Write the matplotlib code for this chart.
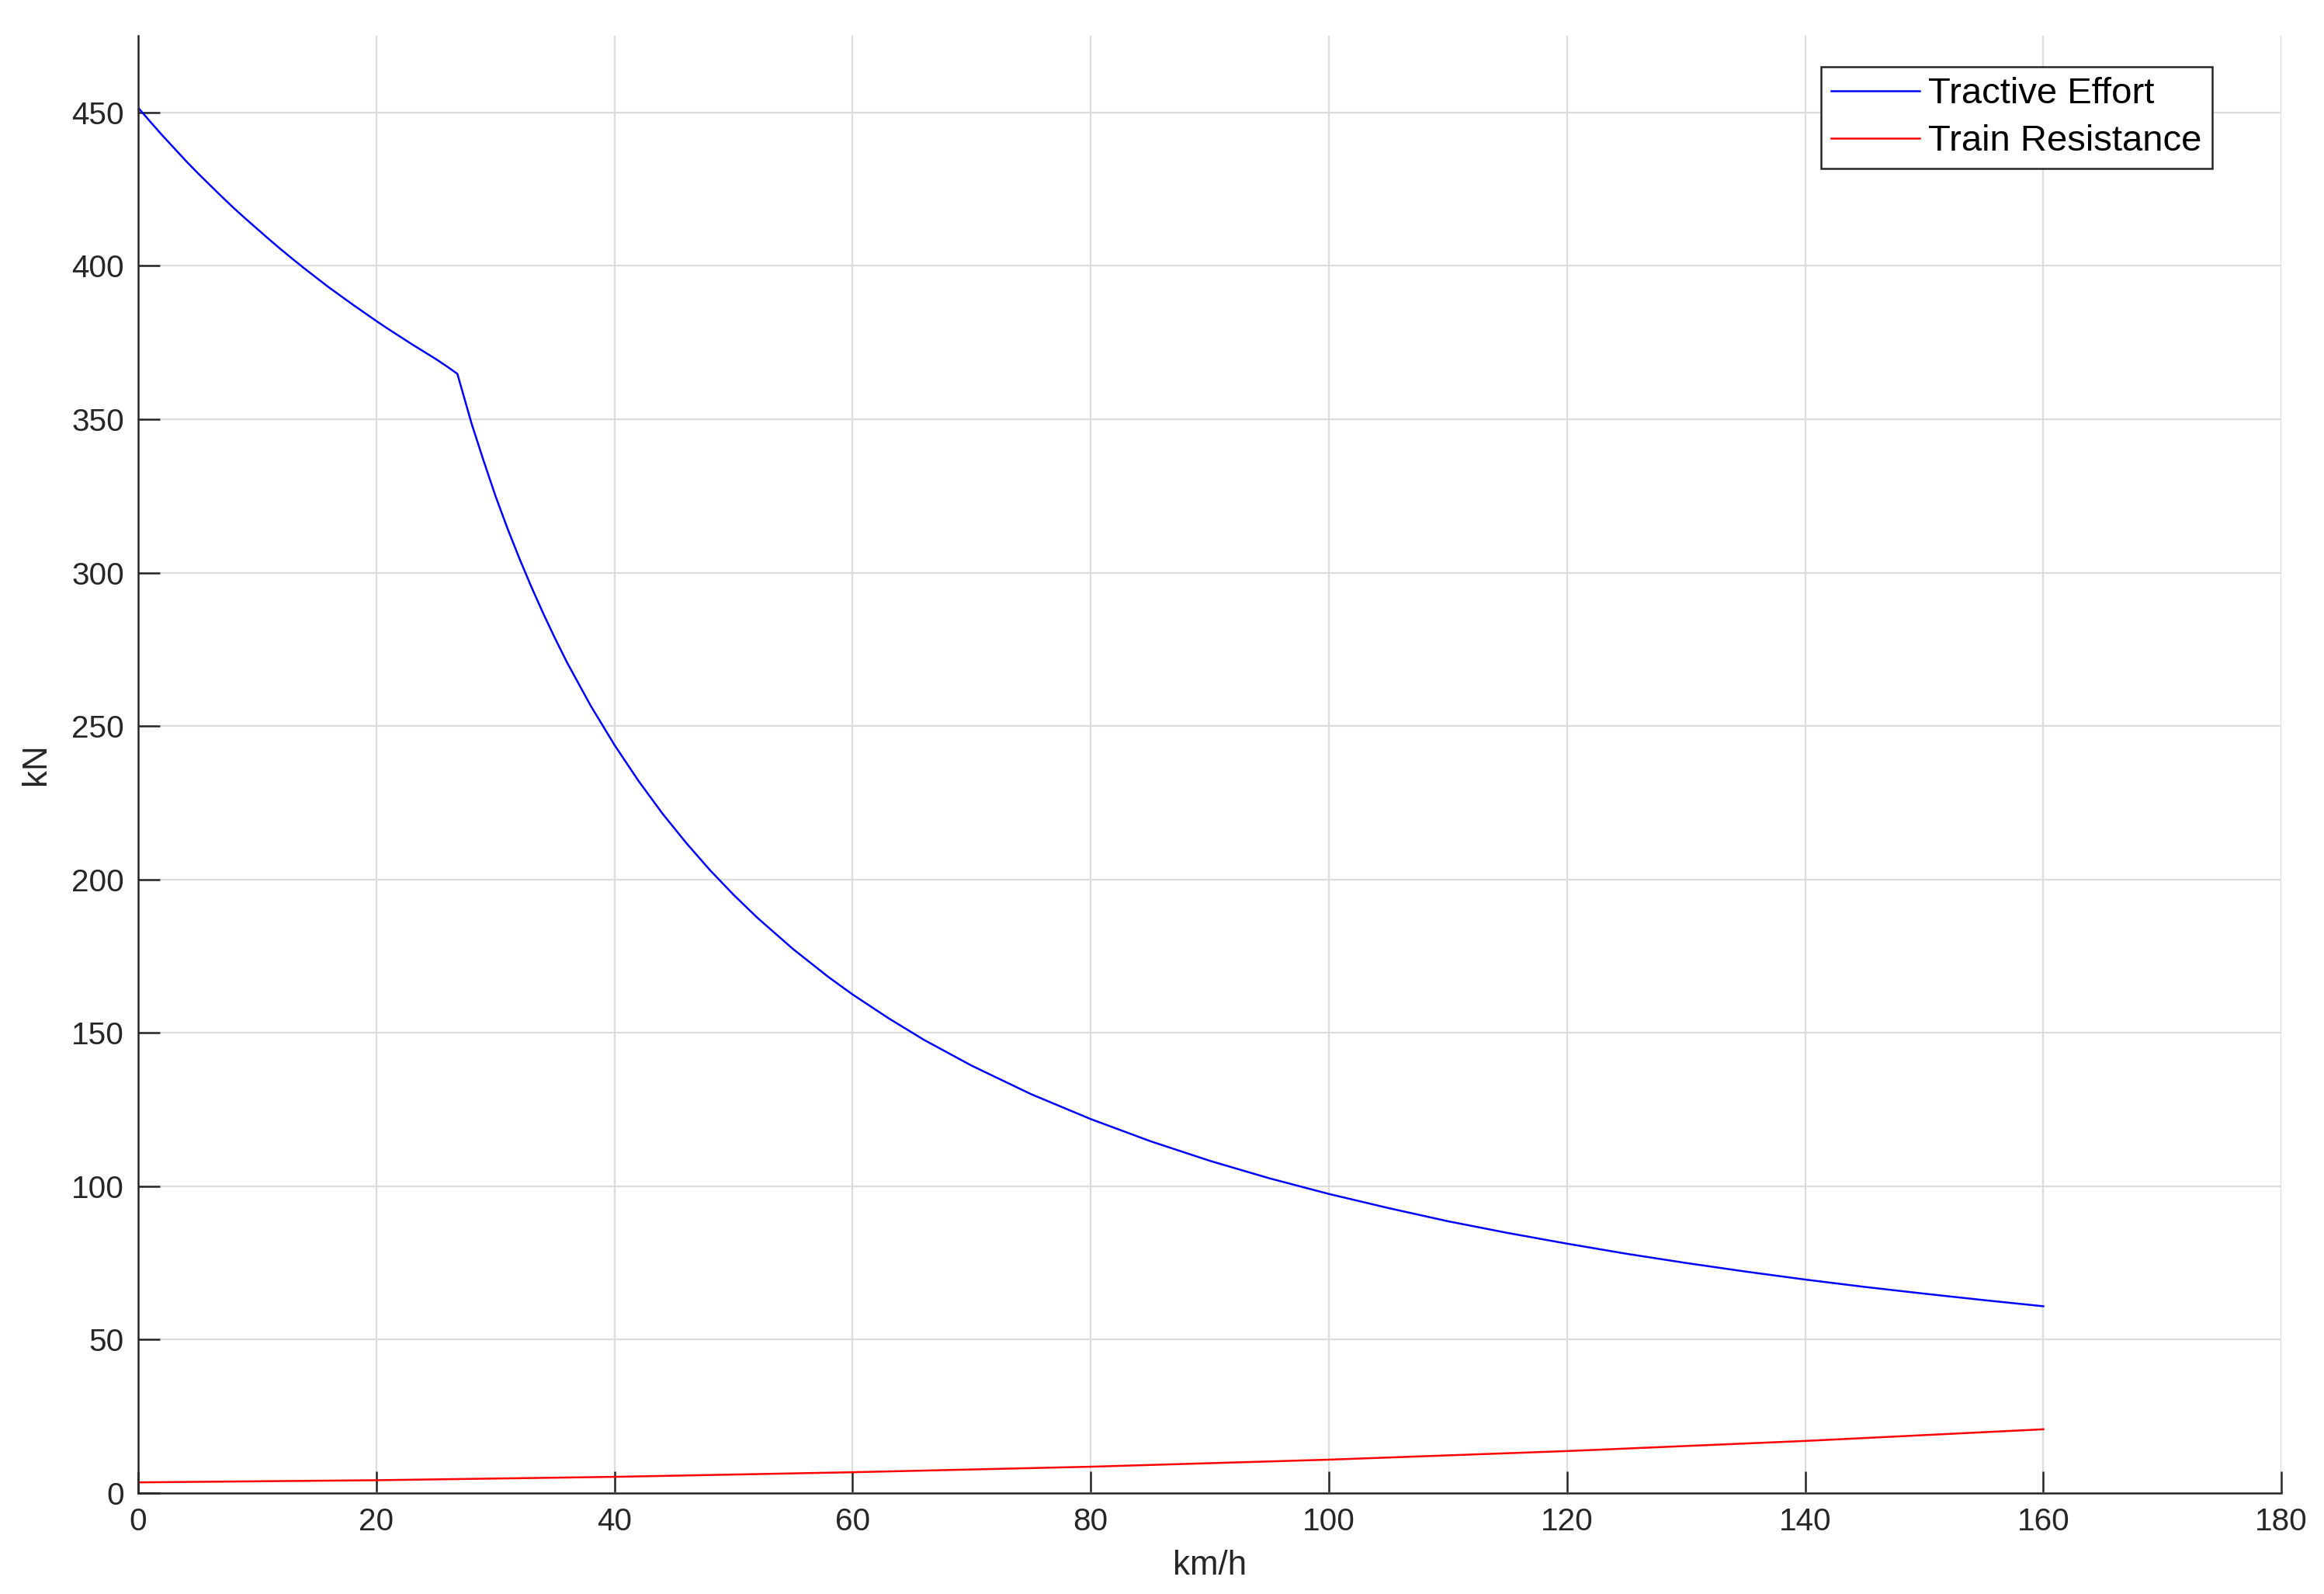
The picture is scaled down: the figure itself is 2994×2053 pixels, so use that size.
import numpy as np
import matplotlib.pyplot as plt

plt.rcParams['font.family'] = ['Liberation Sans', 'DejaVu Sans']

# speed (km/h) and tractive effort (kN)
te_speed = [0, 1, 2, 3, 4, 5, 6, 7, 8, 9, 10, 11, 12, 13, 14, 15, 16, 17, 18,
            19, 20, 21, 22, 23, 24, 25, 26, 26.8,
            28, 29, 30, 31, 32, 33, 34, 35, 36, 38, 40, 42, 44, 46, 48, 50,
            52, 55, 58, 60, 63, 66, 70, 75, 80, 85, 90, 95, 100, 105, 110,
            115, 120, 125, 130, 135, 140, 145, 150, 155, 160]
te_kn = [451.5, 447.0, 442.6, 438.4, 434.2, 430.2, 426.4, 422.6, 418.9, 415.4,
         412.0, 408.6, 405.3, 402.1, 399.0, 396.0, 393.0, 390.2, 387.4,
         384.7, 382.0, 379.4, 376.9, 374.4, 372.0, 369.6, 367.0, 364.8,
         348.5, 336.5, 325.0, 314.5, 304.7, 295.5, 286.8, 278.6, 270.8,
         256.6, 243.8, 232.2, 221.6, 212.0, 203.1, 195.0, 187.5, 177.3,
         168.1, 162.5, 154.8, 147.7, 139.3, 130.0, 121.9, 114.7, 108.3,
         102.6, 97.5, 92.9, 88.6, 84.8, 81.3, 78.0, 75.0, 72.2, 69.6,
         67.2, 65.0, 62.9, 60.9]

# train resistance (kN)
tr_speed = [0, 20, 40, 60, 80, 100, 120, 140, 160]
tr_kn = [3.5, 4.2, 5.3, 6.8, 8.6, 10.9, 13.7, 17.0, 20.8]

fig = plt.figure(figsize=(14.97, 10.265), dpi=200)
ax = fig.add_axes([0.0595, 0.0633, 0.9222, 0.9143])

ax.plot(te_speed, te_kn, color='#0000ff', lw=0.9, label='Tractive Effort')
ax.plot(tr_speed, tr_kn, color='#ff0000', lw=0.9, label='Train Resistance')

ax.set_xlim(0, 180)
ax.set_ylim(0, 475)
ax.set_xticks(np.arange(0, 181, 20))
ax.set_yticks(np.arange(0, 451, 50))

ax.grid(True, color='#dcdcdc', lw=0.8)
ax.set_axisbelow(True)
for s in ['top', 'right']:
    ax.spines[s].set_visible(False)
for s in ['left', 'bottom']:
    ax.spines[s].set_color('#262626')
    ax.spines[s].set_linewidth(0.9)

ax.tick_params(direction='in', length=10, width=0.9, colors='#262626',
               labelsize=14.6, pad=6.5)
ax.set_xlabel('km/h', fontsize=15.8, color='#262626', labelpad=6)
ax.set_ylabel('kN', fontsize=15.8, color='#262626', labelpad=9)

leg = ax.legend(loc='upper right', bbox_to_anchor=(0.9519, 0.9581),
                bbox_transform=fig.transFigure, fontsize=17, fancybox=False,
                framealpha=1, edgecolor='#262626', handlelength=2.4,
                handletextpad=0.25, borderpad=0.28, labelspacing=0.36,
                borderaxespad=0)
leg.get_frame().set_linewidth(0.9)
for t in leg.get_texts():
    t.set_color('black')

fig.savefig('out.png', dpi=200)
